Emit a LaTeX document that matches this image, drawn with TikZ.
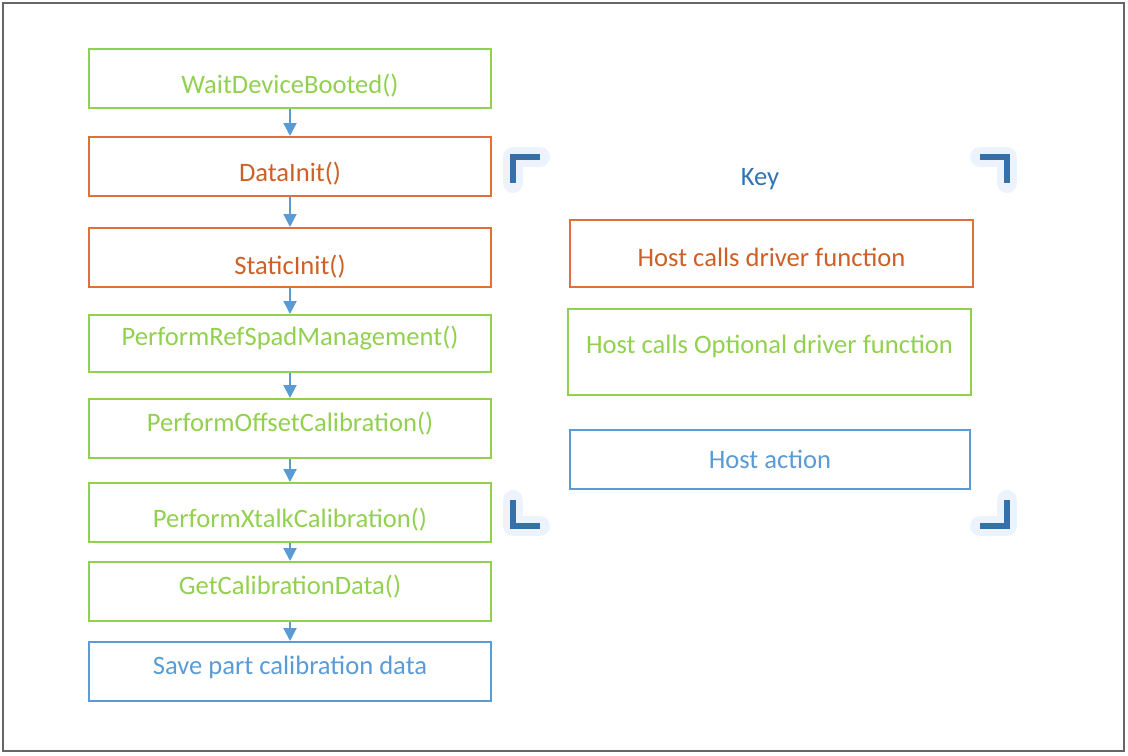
\documentclass[tikz,border=0pt]{standalone}
\usepackage{fontspec}
\setmainfont{Carlito}
\usetikzlibrary{arrows.meta}

\definecolor{fgreen}{RGB}{146,208,80}
\definecolor{forange}{RGB}{224,112,58}
\definecolor{forangetext}{RGB}{204,96,40}
\definecolor{fblue}{RGB}{91,155,213}
\definecolor{keyblue}{RGB}{46,116,181}
\definecolor{brackblue}{RGB}{52,112,170}
\definecolor{glowblue}{RGB}{228,238,251}

\tikzset{
  fbox/.style={draw, rectangle, line width=1pt, inner sep=0pt, minimum width=201pt, minimum height=29.5pt},
  greenbox/.style={fbox, fgreen},
  orangebox/.style={fbox, forange},
  bluebox/.style={fbox, fblue},
  greentext/.style={text=fgreen},
  orangetext/.style={text=forangetext},
  bluetext/.style={text=fblue},
  flow/.style={draw=fblue, line width=1pt, -{Triangle[width=6.5pt,length=6.5pt]}},
  bracket/.style={draw=brackblue, line width=3pt},
  glow/.style={draw=glowblue, line width=10pt, line cap=round, line join=round, opacity=0.7}
}

\begin{document}
\begin{tikzpicture}[x=0.5pt, y=-0.5pt, font=\fontsize{13.3pt}{16pt}\selectfont]
  \useasboundingbox (0,0) rectangle (1128,755);
  \draw[gray!80!black, line width=0.8pt] (3,3) rectangle (1124,751);

  % call sequence
  \node[greenbox, label={[greentext, yshift=-3.75pt]center:WaitDeviceBooted()}] at (290, 78.5) (wait) {};
  \node[orangebox, label={[orangetext, yshift=-3.75pt]center:DataInit()}] at (290, 166.5) (datainit) {};
  \node[orangebox, label={[orangetext, yshift=-4.75pt]center:StaticInit()}] at (290, 257.5) (staticinit) {};
  \node[greenbox, minimum height=28.5pt, label={[greentext, yshift=2.75pt]center:PerformRefSpadManagement()}] at (290, 343.5) (refspad) {};
  \node[greenbox, label={[greentext, yshift=2.25pt]center:PerformOffsetCalibration()}] at (290, 428.5) (offset) {};
  \node[greenbox, label={[greentext, yshift=-3.75pt]center:PerformXtalkCalibration()}] at (290, 512.5) (xtalk) {};
  \node[greenbox, label={[greentext, yshift=2.25pt]center:GetCalibrationData()}] at (290, 591.5) (getcal) {};
  \node[bluebox, label={[bluetext, yshift=2.25pt]center:Save part calibration data}] at (290, 671.5) (savepart) {};

  \draw[flow] (wait) -- (datainit);
  \draw[flow] (datainit) -- (staticinit);
  \draw[flow] (staticinit) -- (refspad);
  \draw[flow] (refspad) -- (offset);
  \draw[flow] (offset) -- (xtalk);
  \draw[flow] (xtalk) -- (getcal);
  \draw[flow] (getcal) -- (savepart);

  % key
  \node[text=keyblue] at (760, 179) (key) {Key};
  \node[orangebox, minimum width=201.5pt, minimum height=33.5pt, label={[orangetext, yshift=-1.75pt]center:Host calls driver function}] at (771.5, 253.5) (keydriver) {};
  \node[greenbox, minimum width=201.5pt, minimum height=43pt, label={[greentext, yshift=3pt]center:Host calls Optional driver function}] at (769.5, 352) (keyoptional) {};
  \node[bluebox, minimum width=200pt, label={[bluetext]center:Host action}] at (770, 459.5) (keyhost) {};

  % corner brackets
  \foreach \corner in {{(540,157) -- (513,157) -- (513,183)},
                       {(980,157) -- (1007,157) -- (1007,183)},
                       {(513,500) -- (513,526) -- (540,526)},
                       {(1007,500) -- (1007,526) -- (980,526)}} {
    \draw[glow] \corner;
    \draw[bracket] \corner;
  }

\end{tikzpicture}
\end{document}
